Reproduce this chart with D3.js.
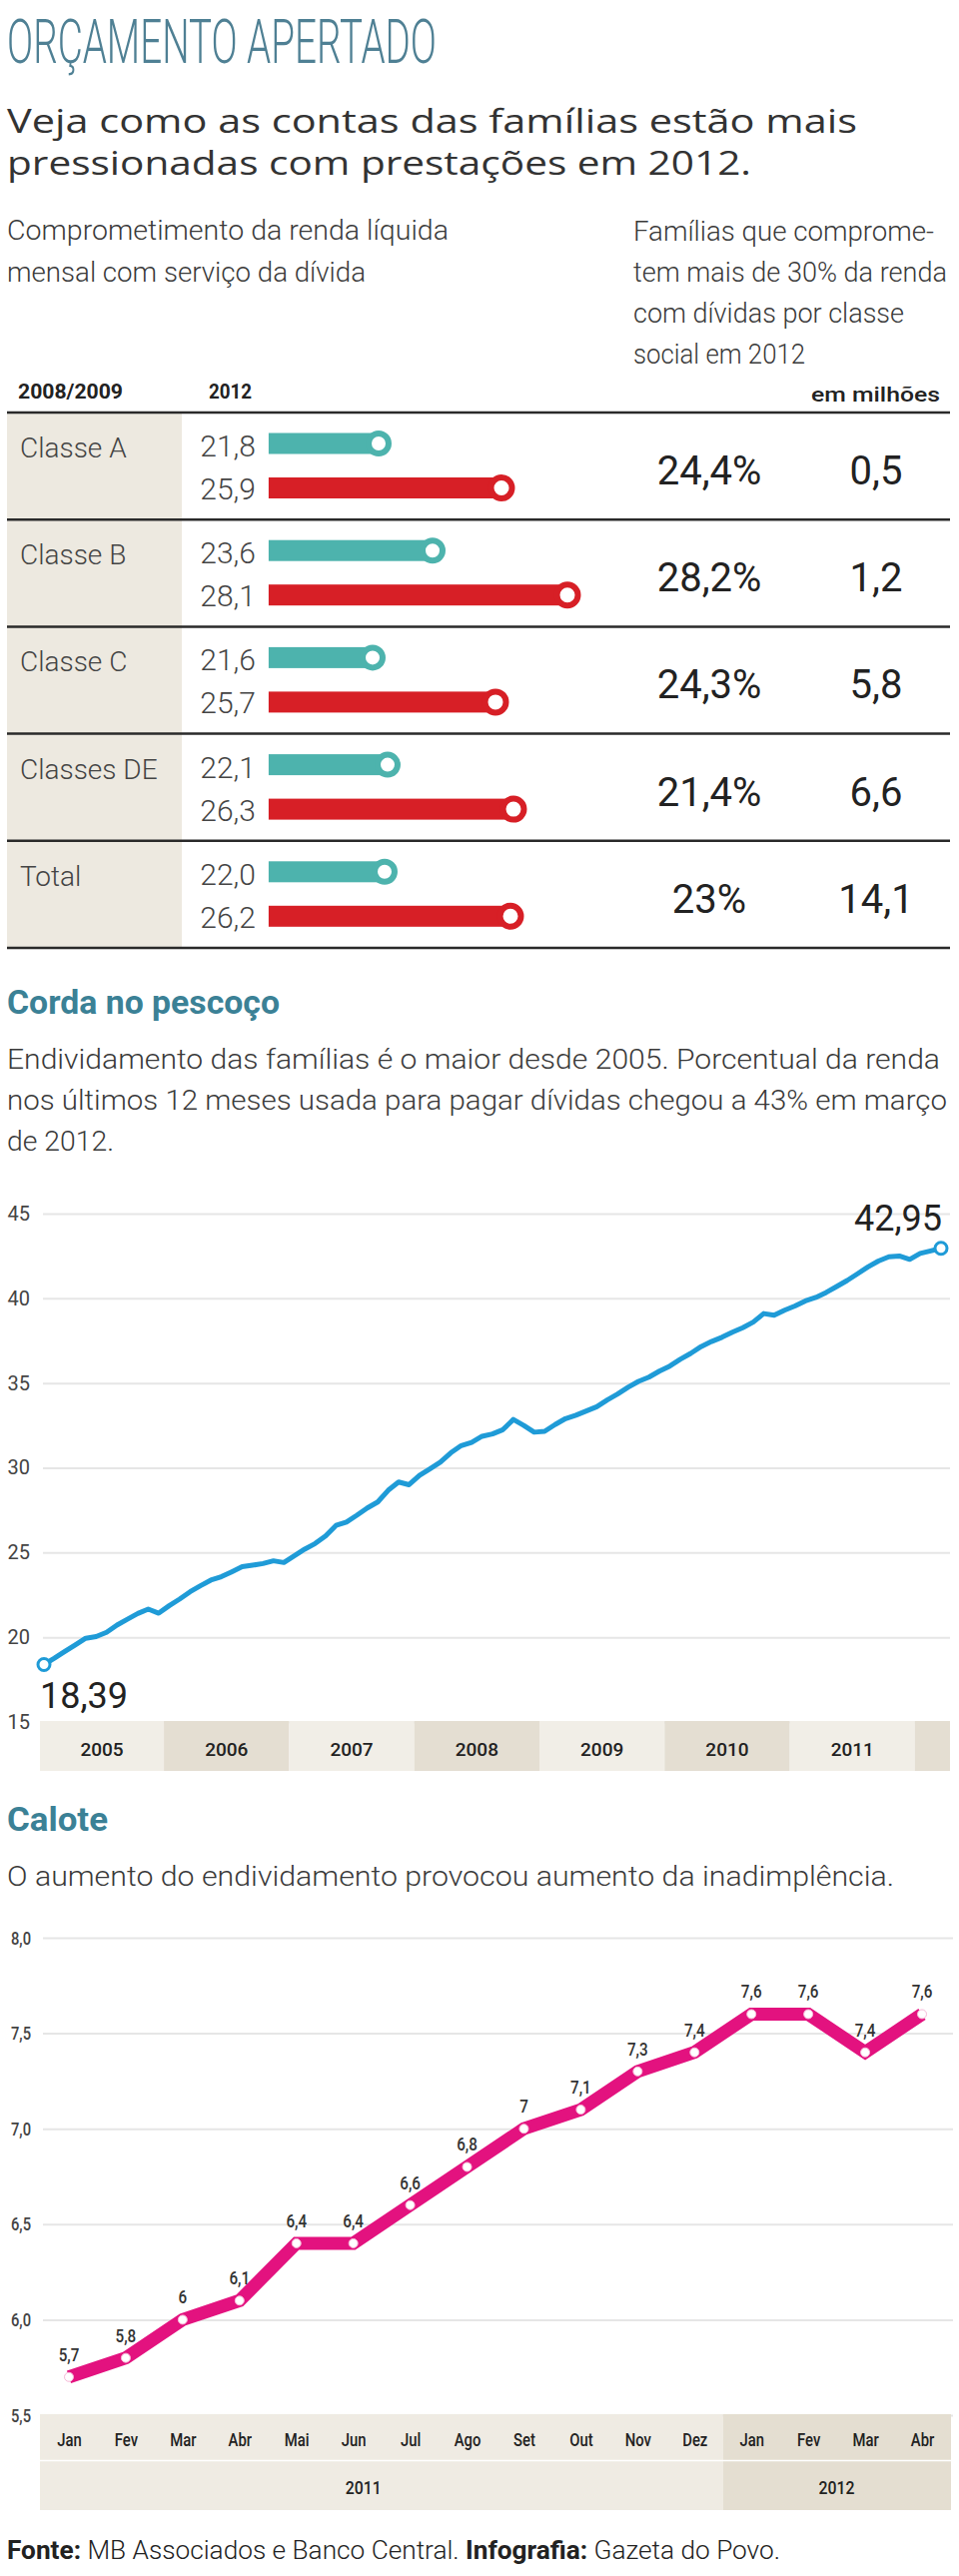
<!DOCTYPE html>
<html>
<head>
<meta charset="utf-8">
<script src="https://cdn.jsdelivr.net/npm/d3@7"></script>
<style>
  body { margin: 0; background: #fff; }
  svg { display: block; }
  .cond { font-family: Roboto, "DejaVu Sans Condensed", "Liberation Sans Narrow", sans-serif; }
</style>
</head>
<body>
<script>
// Table data
const classes = ["Classe A", "Classe B", "Classe C", "Classes DE", "Total"];
const v0809 = [21.8, 23.6, 21.6, 22.1, 22.0];
const v2012 = [25.9, 28.1, 25.7, 26.3, 26.2];
const pct30 = ["24,4%", "28,2%", "24,3%", "21,4%", "23%"];
const milhoes = ["0,5", "1,2", "5,8", "6,6", "14,1"];

// Corda no pescoço: monthly, Jan 2005 to Mar 2012
const debtYears = [2005, 2006, 2007, 2008, 2009, 2010, 2011, 2012];
const debt = [
  18.39, 18.76, 19.16, 19.55, 19.94, 20.04, 20.29, 20.72, 21.06, 21.40, 21.66, 21.42,
  21.86, 22.25, 22.68, 23.04, 23.37, 23.57, 23.86, 24.16, 24.25, 24.35, 24.51, 24.41,
  24.80, 25.20, 25.53, 25.98, 26.60, 26.80, 27.20, 27.63, 27.98, 28.67, 29.16, 29.00,
  29.55, 29.94, 30.33, 30.88, 31.31, 31.50, 31.86, 32.00, 32.25, 32.85, 32.50, 32.10,
  32.15, 32.55, 32.90, 33.10, 33.35, 33.60, 34.00, 34.35, 34.75, 35.10, 35.35, 35.70,
  36.00, 36.40, 36.75, 37.15, 37.45, 37.70, 38.00, 38.27, 38.60, 39.10, 39.00, 39.30,
  39.55, 39.85, 40.05, 40.35, 40.70, 41.05, 41.45, 41.85, 42.20, 42.45, 42.50, 42.30,
  42.65, 42.80, 42.95
];
const debtTicks = [15, 20, 25, 30, 35, 40, 45];

// Calote: monthly, Jan 2011 to Abr 2012
const calMonths = ["Jan", "Fev", "Mar", "Abr", "Mai", "Jun", "Jul", "Ago", "Set", "Out", "Nov", "Dez",
                   "Jan", "Fev", "Mar", "Abr"];
const calYears = [2011, 2011, 2011, 2011, 2011, 2011, 2011, 2011, 2011, 2011, 2011, 2011,
                  2012, 2012, 2012, 2012];
const calote = [5.7, 5.8, 6.0, 6.1, 6.4, 6.4, 6.6, 6.8, 7.0, 7.1, 7.3, 7.4, 7.6, 7.6, 7.4, 7.6];
const caloteTicks = [5.5, 6.0, 6.5, 7.0, 7.5, 8.0];

const pt = d3.formatLocale({decimal: ",", thousands: ".", grouping: [3], currency: ["R$", ""]});
const f1 = pt.format(".1f");
const f2 = pt.format(".2f");
const fShort = v => Number.isInteger(v) ? String(v) : f1(v);

const W = 960, H = 2579;
const svg = d3.select("body").append("svg")
  .attr("width", W).attr("height", H)
  .attr("viewBox", [0, 0, W, H]);

const TEAL = "#4db3ad", RED = "#d71f26", BLUE = "#1f9bd7", PINK = "#e3127f";
const HEAD = "#4f8094", SECT = "#3b8196", INK = "#333";

// text helper
function txt(g, x, y, s, o = {}) {
  const t = g.append("text")
    .attr("class", "cond")
    .attr("x", x).attr("y", y)
    .attr("font-size", o.size || 28)
    .attr("font-weight", o.weight || 300)
    .attr("fill", o.fill || INK)
    .attr("text-anchor", o.anchor || "start")
    .text(s);
  if (o.family) t.style("font-family", o.family);
  if (o.len) t.attr("textLength", o.len).attr("lengthAdjust", "spacingAndGlyphs");
  return t;
}

// Header
txt(svg, 7, 63, "ORÇAMENTO APERTADO", {size: 62, fill: HEAD, len: 430});
const sans = "'Open Sans', 'Noto Sans', sans-serif";
txt(svg, 7, 133, "Veja como as contas das famílias estão mais", {size: 32, weight: 400, fill: "#333", family: sans, len: 851});
txt(svg, 7, 175, "pressionadas com prestações em 2012.", {size: 32, weight: 400, fill: "#333", family: sans, len: 745});

txt(svg, 7, 240, "Comprometimento da renda líquida", {size: 28, fill: "#3a3a3a", len: 442});
txt(svg, 7, 282, "mensal com serviço da dívida", {size: 28, fill: "#3a3a3a", len: 359});
[["Famílias que comprome-", 301], ["tem mais de 30% da renda", 314],
 ["com dívidas por classe", 271], ["social em 2012", 172]].forEach((d, i) => {
  txt(svg, 634, 241 + i * 41, d[0], {size: 28, fill: "#3a3a3a", len: d[1]});
});

txt(svg, 18, 399, "2008/2009", {size: 20, weight: 700, fill: "#222", len: 105});
txt(svg, 209, 399, "2012", {size: 20, weight: 700, fill: "#222", len: 43});
txt(svg, 941, 402, "em milhões", {size: 21, weight: 500, fill: "#222", anchor: "end", len: 129});

// Table
const yRow = d3.scaleBand().domain(classes).range([413, 949]);
const xBar = d3.scaleLinear().domain([18, 28]).range([265, 565]);
const barX0 = xBar(18.13);
const table = svg.append("g");

table.append("rect")
  .attr("x", 7).attr("y", 413).attr("width", 175).attr("height", 536)
  .attr("fill", "#ede9e0");

const rows = table.selectAll("g.row")
  .data(classes.map((c, i) => ({c, a: v0809[i], b: v2012[i], p: pct30[i], m: milhoes[i]})))
  .join("g")
  .attr("class", "row")
  .attr("transform", d => `translate(0,${yRow(d.c)})`);

rows.each(function(d) {
  const g = d3.select(this);
  txt(g, 20, 45, d.c, {size: 28, fill: "#444"});
  txt(g, 256, 44, f1(d.a), {size: 30, fill: "#444", anchor: "end"});
  txt(g, 256, 87, f1(d.b), {size: 30, fill: "#444", anchor: "end"});

  [[d.a, 31, TEAL, 10], [d.b, 75.5, RED, 10.5]].forEach(([v, cy, col, r]) => {
    g.append("rect")
      .attr("x", barX0).attr("y", cy - 10.5)
      .attr("width", xBar(v) - barX0).attr("height", 21)
      .attr("fill", col);
    g.append("circle")
      .attr("cx", xBar(v)).attr("cy", cy).attr("r", r)
      .attr("fill", "#fff").attr("stroke", col).attr("stroke-width", 6);
  });

  txt(g, 710, 72, d.p, {size: 40, weight: 400, fill: "#222", anchor: "middle"});
  txt(g, 877, 72, d.m, {size: 40, weight: 400, fill: "#222", anchor: "middle"});
});

// row separators
table.selectAll("line.sep")
  .data(classes.map(c => yRow(c)).concat([yRow.range()[1]]))
  .join("line")
  .attr("x1", 7).attr("x2", 951)
  .attr("y1", d => d).attr("y2", d => d)
  .attr("stroke", "#2a2a2a").attr("stroke-width", 2.5);

// Corda no pescoço
txt(svg, 7, 1015, "Corda no pescoço", {size: 34, weight: 700, fill: SECT, len: 273});
txt(svg, 7, 1070, "Endividamento das famílias é o maior desde 2005. Porcentual da renda", {size: 27, fill: "#3a3a3a", len: 934});
txt(svg, 7, 1111, "nos últimos 12 meses usada para pagar dívidas chegou a 43% em março", {size: 27, fill: "#3a3a3a", len: 941});
txt(svg, 7, 1152, "de 2012.", {size: 27, fill: "#3a3a3a", len: 107});

const xL = d3.scaleLinear().domain([0, debt.length - 1]).range([44, 942]);
const yL = d3.scaleLinear().domain([15, 45]).range([1724, 1215]);

const gridL = svg.append("g")
  .attr("transform", "translate(951,0)")
  .call(d3.axisLeft(yL).tickValues(debtTicks).tickSize(908).tickPadding(13).tickFormat(d3.format("d")));
gridL.select(".domain").remove();
gridL.selectAll(".tick line").attr("stroke", "#e6e6e6").attr("stroke-width", 2);
gridL.selectAll(".tick text")
  .attr("class", "cond").attr("font-size", 20).attr("font-weight", 400).attr("fill", "#444");

// year bands
const monthW = xL(1) - xL(0);
const bands = svg.append("g");
debtYears.forEach((yr, k) => {
  const x0 = k === 0 ? 40 : xL(12 * k - 0.5);
  const x1 = Math.min(951, xL(12 * k + 11.5));
  bands.append("rect")
    .attr("x", x0).attr("y", 1723).attr("width", x1 - x0).attr("height", 50)
    .attr("fill", k % 2 ? "#e4ded2" : "#f1eee7");
  if (yr < 2012) {
    txt(bands, (x0 + x1) / 2, 1758, String(yr), {size: 19, weight: 500, fill: "#222", anchor: "middle"});
  }
});

const lineL = d3.line().x((d, i) => xL(i)).y(d => yL(d));
svg.append("path")
  .datum(debt)
  .attr("d", lineL)
  .attr("fill", "none").attr("stroke", BLUE)
  .attr("stroke-width", 5).attr("stroke-linejoin", "round");

[0, debt.length - 1].forEach(i => {
  svg.append("circle")
    .attr("cx", xL(i)).attr("cy", yL(debt[i])).attr("r", 6)
    .attr("fill", "#fff").attr("stroke", BLUE).attr("stroke-width", 3);
});
txt(svg, 40, 1710, f2(debt[0]), {size: 36, weight: 400, fill: "#222"});
txt(svg, 943, 1232, f2(debt[debt.length - 1]), {size: 36, weight: 400, fill: "#222", anchor: "end"});

// Calote
txt(svg, 7, 1833, "Calote", {size: 34, weight: 700, fill: SECT, len: 101});
txt(svg, 7, 1888, "O aumento do endividamento provocou aumento da inadimplência.", {size: 27, fill: "#3a3a3a", len: 888});

const xC = d3.scalePoint().domain(d3.range(calote.length)).range([69, 923]);
const yC = d3.scaleLinear().domain([5.5, 8]).range([2418, 1940]);

const gridC = svg.append("g")
  .attr("transform", "translate(954,0)")
  .call(d3.axisLeft(yC).tickValues(caloteTicks).tickSize(911).tickPadding(12).tickFormat(f1));
gridC.select(".domain").remove();
gridC.selectAll(".tick line").attr("stroke", "#e6e6e6").attr("stroke-width", 2);
gridC.selectAll(".tick text")
  .attr("class", "cond").attr("font-size", 19).attr("font-weight", 500).attr("fill", "#444")
  .attr("textLength", 20).attr("lengthAdjust", "spacingAndGlyphs");

// month / year bands
const split = (xC(11) + xC(12)) / 2;
const cb = svg.append("g");
[[40, split, "#efebe3"], [split, 952, "#e4ded1"]].forEach(([a, b, col]) => {
  cb.append("rect").attr("x", a).attr("y", 2417).attr("width", b - a).attr("height", 96).attr("fill", col);
});
cb.append("line")
  .attr("x1", 40).attr("x2", 952).attr("y1", 2463.5).attr("y2", 2463.5)
  .attr("stroke", "#fff").attr("stroke-width", 1.5);

const mAxis = svg.append("g")
  .attr("transform", "translate(0,2417)")
  .call(d3.axisBottom(xC).tickSize(0).tickPadding(19).tickFormat(i => calMonths[i]));
mAxis.select(".domain").remove();
mAxis.selectAll(".tick text")
  .attr("class", "cond").attr("font-size", 19).attr("font-weight", 500).attr("fill", "#222")
  .each(function() {
    const n = this.getComputedTextLength();
    d3.select(this).attr("textLength", n * 0.78).attr("lengthAdjust", "spacingAndGlyphs");
  });

const yrs = Array.from(new Set(calYears));
yrs.forEach(yr => {
  const idx = calYears.map((y, i) => y === yr ? i : -1).filter(i => i >= 0);
  const cx = yr === 2011 ? xC(idx[5]) + 10 : (xC(idx[0]) + xC(idx[idx.length - 1])) / 2;
  txt(svg, cx, 2497, String(yr), {size: 19, weight: 500, fill: "#222", anchor: "middle", len: 36});
});

const lineC = d3.line().x((d, i) => xC(i)).y(d => yC(d));
svg.append("path")
  .datum(calote)
  .attr("d", lineC)
  .attr("fill", "none").attr("stroke", PINK)
  .attr("stroke-width", 13).attr("stroke-linejoin", "miter");

svg.append("g").selectAll("circle")
  .data(calote)
  .join("circle")
  .attr("cx", (d, i) => xC(i)).attr("cy", d => yC(d)).attr("r", 4.5)
  .attr("fill", "#fff").attr("stroke", "#f6b9d8").attr("stroke-width", 1);

svg.append("g").selectAll("text")
  .data(calote)
  .join("text")
  .attr("class", "cond")
  .attr("x", (d, i) => xC(i)).attr("y", d => yC(d) - 16)
  .attr("text-anchor", "middle")
  .attr("font-size", 19).attr("font-weight", 500).attr("fill", "#333")
  .text(d => fShort(d))
  .each(function() {
    const n = this.getComputedTextLength();
    d3.select(this).attr("textLength", n * 0.8).attr("lengthAdjust", "spacingAndGlyphs");
  });

// Source
const src = svg.append("text")
  .attr("class", "cond")
  .attr("x", 7).attr("y", 2562)
  .attr("font-size", 26).attr("font-weight", 300).attr("fill", "#222")
  .attr("textLength", 774).attr("lengthAdjust", "spacingAndGlyphs");
src.append("tspan").attr("font-weight", 700).text("Fonte:");
src.append("tspan").text(" MB Associados e Banco Central. ");
src.append("tspan").attr("font-weight", 700).text("Infografia:");
src.append("tspan").text(" Gazeta do Povo.");
</script>
</body>
</html>
